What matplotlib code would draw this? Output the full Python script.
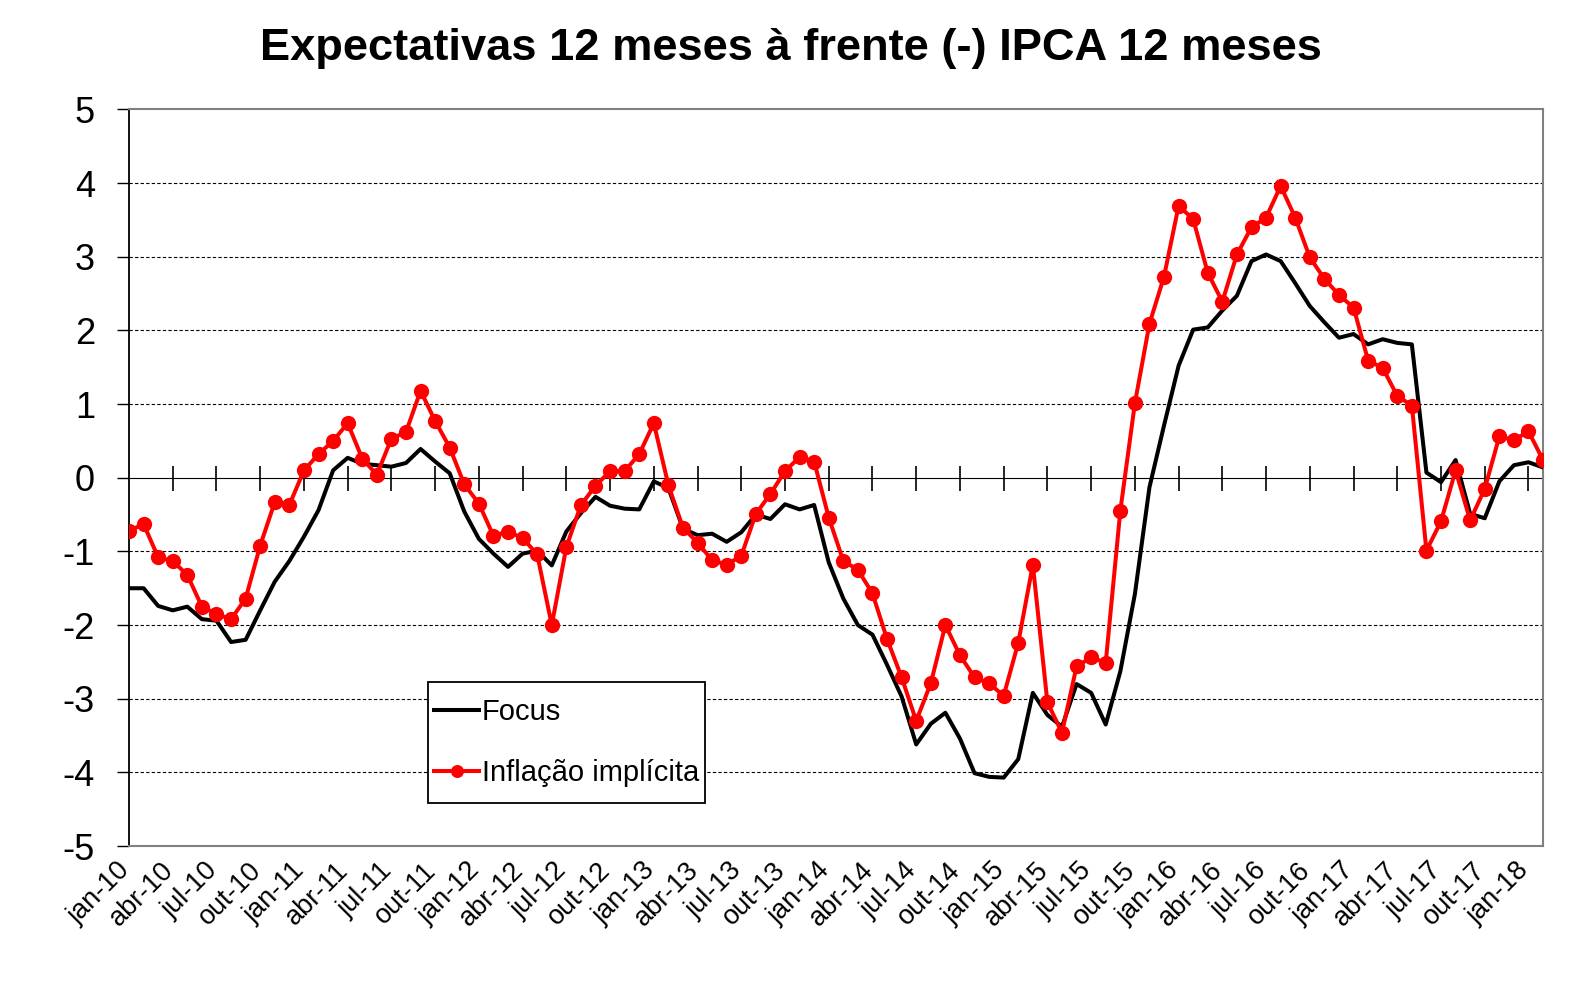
import matplotlib
matplotlib.use("Agg")
import matplotlib.pyplot as plt
import matplotlib.transforms as mtransforms
from matplotlib.patches import Rectangle
import numpy as np

plt.rcParams['font.family'] = ['Liberation Sans', 'DejaVu Sans']

months = ['jan', 'fev', 'mar', 'abr', 'mai', 'jun', 'jul', 'ago', 'set', 'out', 'nov', 'dez']
dates = [f"{months[i % 12]}-{10 + i // 12}" for i in range(98)]  # jan-10 .. fev-18

focus = [
    -1.50, -1.50, -1.74, -1.80, -1.75, -1.92, -1.94, -2.23, -2.20, -1.80, -1.41, -1.13,
    -0.80, -0.44, 0.10, 0.27, 0.19, 0.17, 0.15, 0.20, 0.39, 0.22, 0.06, -0.46,
    -0.83, -1.03, -1.21, -1.03, -0.99, -1.19, -0.73, -0.48, -0.26, -0.38, -0.42, -0.43,
    -0.05, -0.14, -0.69, -0.78, -0.76, -0.87, -0.74, -0.50, -0.56, -0.36, -0.43, -0.37,
    -1.15, -1.64, -2.00, -2.13, -2.54, -2.97, -3.62, -3.34, -3.19, -3.54, -4.01, -4.06,
    -4.07, -3.82, -2.92, -3.22, -3.38, -2.80, -2.92, -3.35, -2.63, -1.58, -0.13, 0.71,
    1.52, 2.01, 2.04, 2.27, 2.47, 2.94, 3.03, 2.94, 2.64, 2.33, 2.11, 1.90,
    1.95, 1.81, 1.88, 1.83, 1.81, 0.07, -0.06, 0.24, -0.49, -0.55, -0.05, 0.17,
    0.21, 0.14,
]

implicita = [
    -0.72, -0.63, -1.08, -1.13, -1.32, -1.75, -1.85, -1.92, -1.64, -0.92, -0.33, -0.37,
    0.10, 0.32, 0.50, 0.74, 0.26, 0.04, 0.53, 0.62, 1.18, 0.77, 0.41, -0.09,
    -0.35, -0.79, -0.73, -0.82, -1.04, -2.00, -0.94, -0.37, -0.11, 0.09, 0.09, 0.32,
    0.74, -0.10, -0.68, -0.88, -1.12, -1.18, -1.06, -0.49, -0.22, 0.09, 0.28, 0.22,
    -0.54, -1.13, -1.25, -1.57, -2.19, -2.71, -3.30, -2.79, -2.00, -2.41, -2.71, -2.79,
    -2.96, -2.24, -1.18, -3.05, -3.46, -2.56, -2.44, -2.51, -0.45, 1.01, 2.09, 2.73,
    3.69, 3.51, 2.78, 2.39, 3.03, 3.40, 3.53, 3.96, 3.53, 2.99, 2.70, 2.48,
    2.31, 1.59, 1.49, 1.11, 0.98, -0.99, -0.59, 0.10, -0.58, -0.15, 0.56, 0.51,
    0.63, 0.24,
]

title = "Expectativas 12 meses à frente (-) IPCA 12 meses"
series_names = ["Focus", "Inflação implícita"]
yticks = [5, 4, 3, 2, 1, 0, -1, -2, -3, -4, -5]

fig = plt.figure(figsize=(15.81, 9.85), dpi=100)
ax = fig.add_axes([0.0816, 0.141, 0.8944, 0.748])

x = np.arange(len(dates))
ax.plot(x, focus, color='black', lw=2.9, label=series_names[0], zorder=3)
ax.plot(x, implicita, color='#FF0000', lw=2.9, marker='o', markersize=11,
        markeredgewidth=0, label=series_names[1], zorder=4)

ax.set_xlim(0, len(dates) - 1)
ax.set_ylim(-5, 5)
ax.set_yticks(yticks)
ax.set_yticklabels([str(v) for v in yticks], fontsize=26)
ax.tick_params(axis='y', direction='out', length=8.5, width=1, pad=16, color='black')

tick_idx = list(range(0, len(dates), 3))
ax.set_xticks(tick_idx)
ax.set_xticklabels([dates[i] for i in tick_idx], fontsize=19.5, rotation=45,
                   ha='right', va='top')
ax.tick_params(axis='x', length=0, pad=8)
offset = mtransforms.ScaledTranslation(6 / 100, 0, fig.dpi_scale_trans)
for lab in ax.get_xticklabels():
    lab.set_transform(lab.get_transform() + offset)

for v in yticks:
    if v not in (0, 5, -5):
        ax.axhline(v, color='black', lw=0.8, ls=(0, (3, 2)), zorder=1)

for s in ['top', 'right', 'bottom']:
    ax.spines[s].set_color('#808080')
    ax.spines[s].set_linewidth(1.5)
ax.spines['left'].set_color('black')
ax.spines['left'].set_linewidth(1.3)

# category axis crossing at y = 0
sec = ax.secondary_xaxis(0.5)
sec.set_xticks(tick_idx[1:])
sec.set_xticklabels([])
sec.tick_params(direction='inout', length=18, width=1.2, color='black')
sec.spines['bottom'].set_color('black')
sec.spines['bottom'].set_linewidth(1.5)

# legend box
lx0, ly0, lw_, lh_ = 0.2115, 0.0583, 0.1959, 0.1642
ax.add_patch(Rectangle((lx0, ly0), lw_, lh_, transform=ax.transAxes,
                       facecolor='white', edgecolor='black', lw=1.3, zorder=5))
leg = ax.legend(loc='center left', bbox_to_anchor=(lx0, ly0, lw_, lh_), borderaxespad=0,
                fontsize=21, frameon=False, handlelength=1.55, handletextpad=0.1,
                labelspacing=1.14, borderpad=0.2, markerscale=0.85)
leg.set_zorder(6)

fig.text(0.50, 0.951, title, ha='center', va='center', fontsize=32.6, fontweight='bold')

fig.savefig('out.png', dpi=100, facecolor='white')
